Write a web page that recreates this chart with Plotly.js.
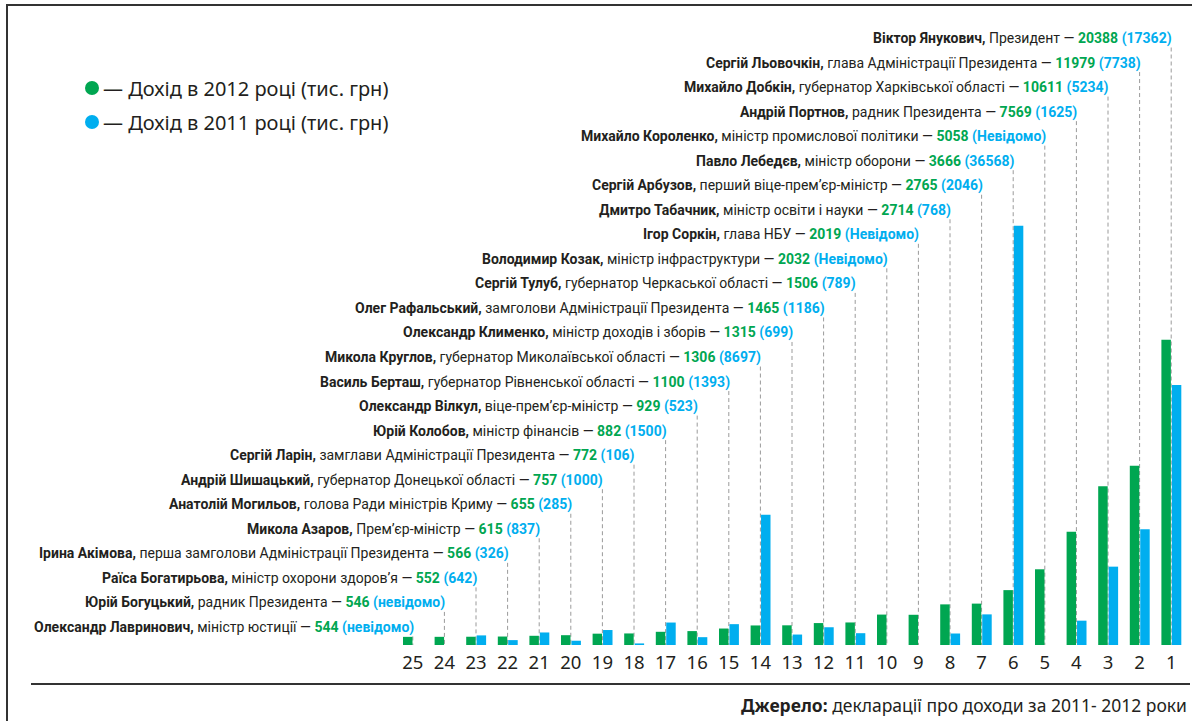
<!DOCTYPE html>
<html>
<head>
<meta charset="utf-8">
<script src="https://cdn.plot.ly/plotly-3.0.1.min.js"></script>
<style>
  html, body { margin: 0; padding: 0; background: #ffffff; }
  #chart { width: 1198px; height: 721px; }
</style>
</head>
<body>
<div id="chart"></div>
<script>
// ---------- DATA (ordered by rank 1 .. 25) ----------
const ranks = [1,2,3,4,5,6,7,8,9,10,11,12,13,14,15,16,17,18,19,20,21,22,23,24,25];
const names = [
  "Віктор Янукович", "Сергій Льовочкін", "Михайло Добкін", "Андрій Портнов",
  "Михайло Короленко", "Павло Лебедєв", "Сергій Арбузов", "Дмитро Табачник",
  "Ігор Соркін", "Володимир Козак", "Сергій Тулуб", "Олег Рафальський",
  "Олександр Клименко", "Микола Круглов", "Василь Берташ", "Олександр Вілкул",
  "Юрій Колобов", "Сергій Ларін", "Андрій Шишацький", "Анатолій Могильов",
  "Микола Азаров", "Ірина Акімова", "Раїса Богатирьова", "Юрій Богуцький",
  "Олександр Лавринович"
];
const roles = [
  "Президент", "глава Адміністрації Президента", "губернатор Харківської області",
  "радник Президента", "міністр промислової політики", "міністр оборони",
  "перший віце-прем’єр-міністр", "міністр освіти і науки", "глава НБУ",
  "міністр інфраструктури", "губернатор Черкаської області",
  "замголови Адміністрації Президента", "міністр доходів і зборів",
  "губернатор Миколаївської області", "губернатор Рівненської області",
  "віце-прем’єр-міністр", "міністр фінансів", "замглави Адміністрації Президента",
  "губернатор Донецької області", "голова Ради міністрів Криму", "Прем’єр-міністр",
  "перша замголови Адміністрації Президента", "міністр охорони здоров’я",
  "радник Президента", "міністр юстиції"
];
// income, thousand UAH
const income2012 = [20388, 11979, 10611, 7569, 5058, 3666, 2765, 2714, 2019, 2032,
                    1506, 1465, 1315, 1306, 1100, 929, 882, 772, 757, 655,
                    615, 566, 552, 546, 544];
const income2011 = [17362, 7738, 5234, 1625, null, 36568, 2046, 768, null, null,
                    789, 1186, 699, 8697, 1393, 523, 1500, 106, 1000, 285,
                    837, 326, 642, null, null];
// wording used when the 2011 figure is unknown
const unknown2011Text = ["", "", "", "", "Невідомо", "", "", "", "Невідомо", "Невідомо",
                         "", "", "", "", "", "", "", "", "", "",
                         "", "", "", "невідомо", "невідомо"];
const legendLabels = ["— Дохід в 2012 році (тис. грн)", "— Дохід в 2011 році (тис. грн)"];
const sourceBold = "Джерело:";
const sourceText = "декларації про доходи за 2011- 2012 роки";

// the reference truncates its tallest bar at this height
const DISPLAY_CAP = 28000;

// ---------- STYLE / LAYOUT ----------
const GREEN = "#00a651", BLUE = "#00aeef", INK = "#231f20";
const W = 1198, H = 721;
const M = {l: 397, r: 11, t: 46, b: 76, pad: 0};
const PW = W - M.l - M.r, PH = H - M.t - M.b;
const BASE = H - M.b;
const px2x = px => (px - M.l) / PW;
const py2y = py => (BASE - py) / PH;
const ROW0 = 38.5, ROWSTEP = 24.54;

// categories shown left->right: 25 ... 1
const order = ranks.slice().reverse();
const cats = order.map(String);
const idxOf = r => order.indexOf(r);

const g = order.map(r => income2012[r-1]);
const b = order.map(r => income2011[r-1]);

const traces = [
  {type: "bar", name: "2012", x: cats, y: g.map(v => Math.min(v, DISPLAY_CAP)),
   customdata: g, hovertemplate: "%{x}: %{customdata}<extra>2012</extra>",
   marker: {color: GREEN}, width: 0.3, offset: -0.31},
  {type: "bar", name: "2011", x: cats, y: b.map(v => v == null ? null : Math.min(v, DISPLAY_CAP)),
   customdata: b, hovertemplate: "%{x}: %{customdata}<extra>2011</extra>",
   marker: {color: BLUE}, width: 0.3, offset: 0.02}
];

const annotations = [];
const shapes = [];
const LABEL_FONT = "Roboto, Noto Sans, sans-serif";

ranks.forEach((r, i) => {
  const rowY = ROW0 + (r - 1) * ROWSTEP;
  const v11 = income2011[i] == null ? unknown2011Text[i] : String(income2011[i]);
  const txt = "<b>" + names[i] + ",</b> " + roles[i] + " — " +
              "<span style='color:" + GREEN + "'><b>" + income2012[i] + "</b></span> " +
              "<span style='color:" + BLUE + "'><b>(" + v11 + ")</b></span>";
  annotations.push({
    xref: "x", yref: "paper", x: idxOf(r), y: py2y(rowY),
    xanchor: "right", yanchor: "middle", xshift: 3, showarrow: false,
    text: txt, font: {family: LABEL_FONT, size: 14, color: INK}
  });
  shapes.push({
    type: "line", layer: "below", xref: "x", yref: "paper",
    x0: idxOf(r), x1: idxOf(r), y0: py2y(rowY + 9), y1: 0,
    line: {color: "#9a9a9a", width: 1, dash: "4px,3px"}
  });
});

// legend
[GREEN, BLUE].forEach((c, k) => {
  const cy = 88 + k * 34;
  shapes.push({type: "circle", xref: "paper", yref: "paper",
    xsizemode: "pixel", ysizemode: "pixel", xanchor: px2x(92), yanchor: py2y(cy),
    x0: -7, x1: 7, y0: -7, y1: 7, fillcolor: c, line: {width: 0}});
  annotations.push({xref: "paper", yref: "paper", x: px2x(101), y: py2y(cy),
    xanchor: "left", yanchor: "middle", showarrow: false, text: legendLabels[k],
    font: {family: "Noto Sans, sans-serif", size: 20, color: INK}});
});

// frame lines
const frame = {color: "#333333", width: 2};
shapes.push({type: "line", xref: "paper", yref: "paper", x0: px2x(7), x1: px2x(7), y0: py2y(5), y1: py2y(722), line: frame});
shapes.push({type: "line", xref: "paper", yref: "paper", x0: px2x(6), x1: px2x(1192), y0: py2y(5), y1: py2y(5), line: frame});
shapes.push({type: "line", xref: "paper", yref: "paper", x0: px2x(31), x1: px2x(1190), y0: py2y(684), y1: py2y(684), line: frame});

// source
annotations.push({xref: "paper", yref: "paper", x: px2x(1189), y: py2y(705),
  xanchor: "right", yanchor: "middle", showarrow: false,
  text: "<b>" + sourceBold + "</b> " + sourceText,
  font: {family: "Noto Sans, sans-serif", size: 17.5, color: INK}});

const layout = {
  width: W, height: H,
  margin: M,
  paper_bgcolor: "#ffffff", plot_bgcolor: "rgba(0,0,0,0)",
  showlegend: false,
  barmode: "overlay",
  xaxis: {type: "category", categoryorder: "array", categoryarray: cats,
          range: [-0.5, cats.length - 0.5], autorange: false,
          showgrid: false, zeroline: false, showline: false, ticks: "",
          ticklabelstandoff: 4,
          tickfont: {family: "Noto Sans, sans-serif", size: 18.5, color: "#231f20"}},
  yaxis: {range: [0, PH * 66.8], autorange: false, showgrid: false, zeroline: false,
          showline: false, showticklabels: false, ticks: ""},
  shapes: shapes,
  annotations: annotations
};

Plotly.newPlot("chart", traces, layout, {displayModeBar: false, staticPlot: true});
</script>
</body>
</html>
